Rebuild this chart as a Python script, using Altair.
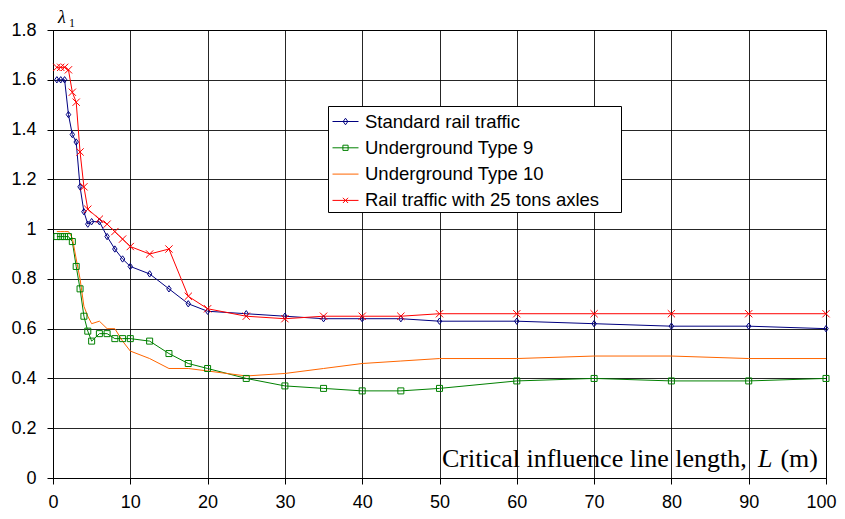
import altair as alt
import pandas as pd

# ---------------- data ----------------
series_names = [
    "Standard rail traffic",
    "Underground Type 9",
    "Underground Type 10",
    "Rail traffic with 25 tons axles",
]
series_colors = ["#000080", "#008000", "#FF6600", "#FF0000"]

x_std = [0.5, 1, 1.5, 2, 2.5, 3, 3.5, 4, 4.5, 5, 6, 7, 8, 9, 10, 12.5, 15, 17.5, 20,
         25, 30, 35, 40, 45, 50, 60, 70, 80, 90, 100]
y_std = [1.60, 1.60, 1.60, 1.46, 1.38, 1.35, 1.17, 1.07, 1.02, 1.03, 1.03, 0.97, 0.92,
         0.88, 0.85, 0.82, 0.76, 0.70, 0.67, 0.66, 0.65, 0.64, 0.64, 0.64, 0.63, 0.63,
         0.62, 0.61, 0.61, 0.60]

x_ug9 = [0.5, 1, 1.5, 2, 2.5, 3, 3.5, 4, 4.5, 5, 6, 7, 8, 9, 10, 12.5, 15, 17.5, 20,
         25, 30, 35, 40, 45, 50, 60, 70, 80, 90, 100]
y_ug9 = [0.97, 0.97, 0.97, 0.97, 0.95, 0.85, 0.76, 0.65, 0.59, 0.55, 0.58, 0.58, 0.56,
         0.56, 0.56, 0.55, 0.50, 0.46, 0.44, 0.40, 0.37, 0.36, 0.35, 0.35, 0.36, 0.39,
         0.40, 0.39, 0.39, 0.40]

x_ug10 = [0.5, 1, 1.5, 2, 2.5, 3, 3.5, 4, 4.5, 5, 6, 7, 8, 9, 10, 12.5, 15, 17.5, 20,
          25, 30, 35, 40, 45, 50, 60, 70, 80, 90, 100]
y_ug10 = [0.99, 0.99, 0.99, 0.99, 0.965, 0.88, 0.80, 0.69, 0.65, 0.62, 0.63, 0.60, 0.60,
          0.55, 0.51, 0.48, 0.44, 0.44, 0.43, 0.41, 0.42, 0.44, 0.46, 0.47, 0.48, 0.48,
          0.49, 0.49, 0.48, 0.48]

x_r25 = [0.5, 1, 1.5, 2, 2.5, 3, 3.5, 4, 4.5, 6, 7, 8, 9, 10, 12.5, 15, 17.5, 20,
         25, 30, 35, 40, 45, 50, 60, 70, 80, 90, 100]
y_r25 = [1.65, 1.65, 1.65, 1.64, 1.55, 1.51, 1.31, 1.17, 1.08, 1.04, 1.02, 0.99, 0.96,
         0.93, 0.90, 0.92, 0.73, 0.68, 0.65, 0.64, 0.65, 0.65, 0.65, 0.66, 0.66, 0.66,
         0.66, 0.66, 0.66]

x_ticks = [0, 10, 20, 30, 40, 50, 60, 70, 80, 90, 100]
y_ticks = [0, 0.2, 0.4, 0.6, 0.8, 1.0, 1.2, 1.4, 1.6, 1.8]

# ---------------- table ----------------
frames = []
for name, xs, ys in zip(series_names, [x_std, x_ug9, x_ug10, x_r25],
                        [y_std, y_ug9, y_ug10, y_r25]):
    frames.append(pd.DataFrame({"L": xs, "lam": ys, "series": name}))
df = pd.concat(frames, ignore_index=True)

# ---------------- styles ----------------
SANS = "Liberation Sans"
SERIF = "Liberation Serif"

marker_series = [series_names[0], series_names[1], series_names[3]]
marker_paths = [
    "M0,-1L0.7,0L0,1L-0.7,0Z",          # diamond
    "M-0.95,-0.95H0.95V0.95H-0.95Z",    # square
    "M-1.15,-1.15L1.15,1.15M-1.15,1.15L1.15,-1.15",  # x
]

legend_shape_expr = (
    "datum.value == 'Standard rail traffic' ? 'M-1,0H1M0,-0.25L0.18,0L0,0.25L-0.18,0Z' : "
    "datum.value == 'Underground Type 9' ? 'M-1,0H1M-0.2,-0.2H0.2V0.2H-0.2Z' : "
    "datum.value == 'Underground Type 10' ? 'M-1,0H1' : "
    "'M-1,0H1M-0.2,-0.2L0.2,0.2M-0.2,0.2L0.2,-0.2'"
)

x_scale = alt.Scale(domain=[0, 100], nice=False, zero=False)
y_scale = alt.Scale(domain=[0, 1.8], nice=False)
color_scale = alt.Scale(domain=series_names, range=series_colors)

x_axis = alt.Axis(values=x_ticks, title=None, labelFont=SANS, labelFontSize=18,
                  labelColor="#000", tickSize=6, tickColor="#000", domainColor="#000",
                  gridColor="#000", gridOpacity=0.85, labelPadding=9, labelFlush=False,
                  labelOverlap=False,
                  labelOffset={"condition": {"test": "datum.value == 100", "value": -5},
                               "value": 0})
y_axis = alt.Axis(values=y_ticks, title=None, format="~g", labelFont=SANS,
                  labelFontSize=18, labelColor="#000", tickSize=6, tickColor="#000",
                  domainColor="#000", gridColor="#000", gridOpacity=0.85,
                  labelPadding=11, labelOverlap=False)

# blank padding (no-break space + Braille pattern blank) so the legend box is as wide as in the reference
legend = alt.Legend(
    title=None, orient="none", legendX=275, legendY=76,
    labelFont=SANS, labelFontSize=18.5, labelColor="#000", labelLimit=400,
    labelExpr="datum.label + '\u00a0\u2800'",
    symbolSize=676, symbolStrokeWidth=1, symbolType=alt.ExprRef(legend_shape_expr),
    symbolFillColor="transparent", symbolOffset=2,
    labelOffset=6, rowPadding=3.3, padding=2,
    strokeColor="#000", fillColor="#fff", cornerRadius=0,
)

lines = alt.Chart(df).mark_line(strokeWidth=1).encode(
    x=alt.X("L:Q", scale=x_scale, axis=x_axis),
    y=alt.Y("lam:Q", scale=y_scale, axis=y_axis),
    color=alt.Color("series:N", scale=color_scale, legend=legend),
    detail="series:N",
)

points = alt.Chart(df[df["series"].isin(marker_series)]).mark_point(
    filled=False, size=40, strokeWidth=1, opacity=1
).encode(
    x=alt.X("L:Q", scale=x_scale),
    y=alt.Y("lam:Q", scale=y_scale),
    color=alt.Color("series:N", scale=color_scale, legend=None),
    shape=alt.Shape("series:N", scale=alt.Scale(domain=marker_series, range=marker_paths),
                    legend=None),
)

# ---------------- text annotations ----------------
ann = pd.DataFrame({"lam_sym": ["λ"], "sub": ["1"],
                    "xt": ["Critical influence line length,"], "L": ["L"], "unit": ["(m)"]})

lam_text = alt.Chart(ann).mark_text(font=SERIF, fontStyle="italic", fontSize=18,
                                    align="left", baseline="alphabetic", color="#000").encode(
    x=alt.value(5), y=alt.value(-7), text="lam_sym:N")
sub_text = alt.Chart(ann).mark_text(font=SERIF, fontSize=12, align="left",
                                    baseline="alphabetic", color="#000").encode(
    x=alt.value(16), y=alt.value(-3), text="sub:N")
xt_text = alt.Chart(ann).mark_text(font=SERIF, fontSize=26, align="left",
                                   baseline="alphabetic", color="#000").encode(
    x=alt.value(389), y=alt.value(437), text="xt:N")
L_text = alt.Chart(ann).mark_text(font=SERIF, fontStyle="italic", fontSize=26, align="left",
                                  baseline="alphabetic", color="#000").encode(
    x=alt.value(705), y=alt.value(437), text="L:N")
unit_text = alt.Chart(ann).mark_text(font=SERIF, fontSize=26, align="right",
                                     baseline="alphabetic", color="#000").encode(
    x=alt.value(765), y=alt.value(437), text="unit:N")

chart = alt.layer(lines, points, lam_text, sub_text, xt_text, L_text, unit_text).properties(
    width=773, height=448,
    padding={"left": 45, "top": 22, "right": 11, "bottom": 33},
    autosize=alt.AutoSizeParams(type="none"),
    background="#ffffff",
).configure_view(stroke="#000", strokeWidth=1)

chart.save("out.html", embed_options={"renderer": "svg", "actions": False})
